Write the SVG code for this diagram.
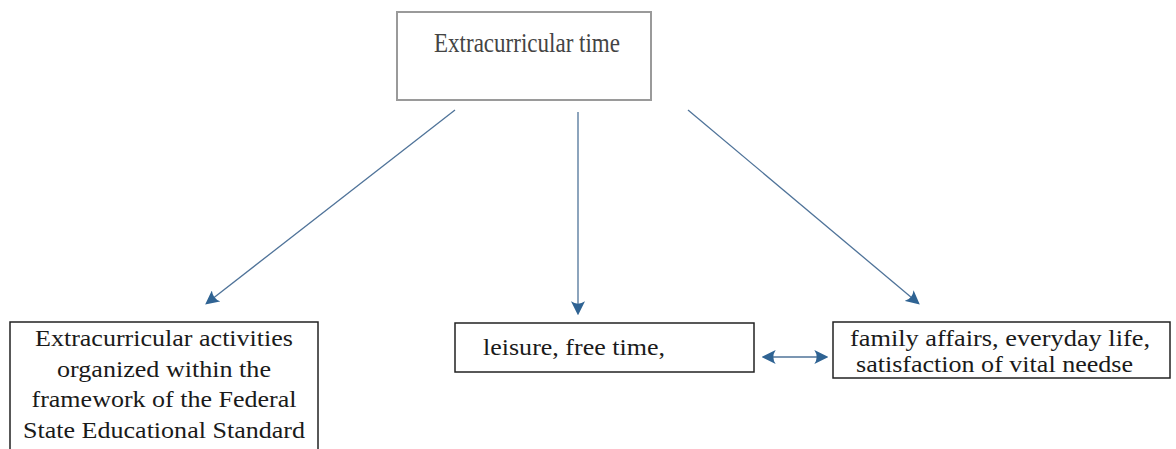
<svg xmlns="http://www.w3.org/2000/svg" width="1176" height="449" viewBox="0 0 1176 449">
  <style>
    .box { fill: #ffffff; stroke: #222222; stroke-width: 1.5; }
    .top { fill: #ffffff; stroke: #9a9a9a; stroke-width: 2; }
    .lbl { font-family: "Liberation Serif", "Times New Roman", serif; fill: #1a1a1a; font-size: 23px; }
    .title { font-family: "Liberation Serif", "Times New Roman", serif; fill: #444444; font-size: 27px; }
    .link { stroke: #4f7399; stroke-width: 1.3; fill: none; }
  </style>
  <defs>
    <marker id="head" viewBox="0 0 12 12" refX="10" refY="6" markerWidth="14" markerHeight="14" markerUnits="userSpaceOnUse" orient="auto-start-reverse">
      <path d="M0,0 Q4,6 0,12 L12,6 Z" fill="#2f6393"/>
    </marker>
  </defs>
  <rect width="1176" height="449" fill="#ffffff"/>

  <g id="node-extracurricular-time">
    <rect class="top" x="397" y="12" width="254" height="88"/>
    <text class="title" x="527" y="52" text-anchor="middle" textLength="186" lengthAdjust="spacingAndGlyphs">Extracurricular time</text>
  </g>

  <g id="node-activities">
    <rect class="box" x="10" y="322" width="308" height="140"/>
    <text class="lbl" x="164" y="346" text-anchor="middle" textLength="258" lengthAdjust="spacingAndGlyphs">Extracurricular activities</text>
    <text class="lbl" x="164" y="377" text-anchor="middle" textLength="214" lengthAdjust="spacingAndGlyphs">organized within the</text>
    <text class="lbl" x="164" y="407" text-anchor="middle" textLength="265" lengthAdjust="spacingAndGlyphs">framework of the Federal</text>
    <text class="lbl" x="164" y="438" text-anchor="middle" textLength="282" lengthAdjust="spacingAndGlyphs">State Educational Standard</text>
  </g>

  <g id="node-leisure">
    <rect class="box" x="455" y="323" width="299" height="49"/>
    <text class="lbl" x="483" y="355" textLength="182" lengthAdjust="spacingAndGlyphs">leisure, free time,</text>
  </g>

  <g id="node-family">
    <rect class="box" x="833" y="322" width="337" height="56"/>
    <text class="lbl" x="850" y="346" textLength="300" lengthAdjust="spacingAndGlyphs">family affairs, everyday life,</text>
    <text class="lbl" x="856" y="372" textLength="277" lengthAdjust="spacingAndGlyphs">satisfaction of vital needse</text>
  </g>

  <g id="connectors">
    <line class="link" x1="455" y1="110" x2="207" y2="303" marker-end="url(#head)"/>
    <line class="link" x1="578" y1="112" x2="578" y2="313" marker-end="url(#head)"/>
    <line class="link" x1="688" y1="110" x2="918" y2="303" marker-end="url(#head)"/>
    <line class="link" x1="764" y1="357" x2="826" y2="357" marker-start="url(#head)" marker-end="url(#head)"/>
  </g>
</svg>
